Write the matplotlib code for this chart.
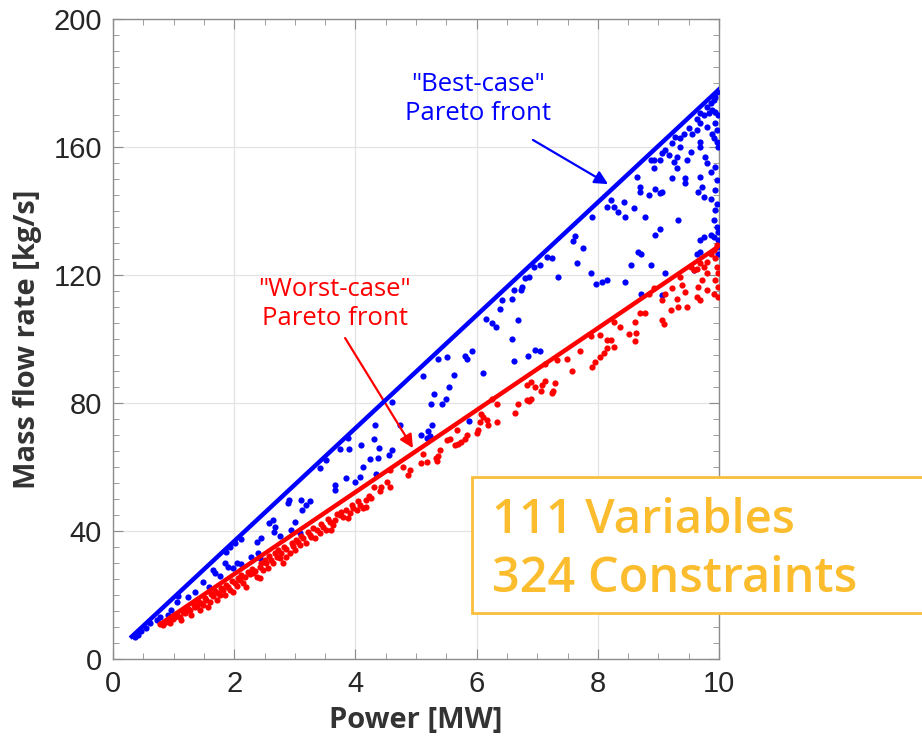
import matplotlib.pyplot as plt
from matplotlib.patches import Rectangle
from matplotlib.ticker import MultipleLocator

blue_x = [9.97, 9.94, 9.91, 9.86, 9.80, 9.88, 9.94, 9.99, 9.83, 9.75, 9.69, 9.64, 9.69, 9.80,
          9.94, 9.97, 9.88, 9.91, 9.97, 9.99, 9.64, 9.55, 9.50, 9.42, 9.36, 9.28, 9.22, 9.11,
          9.17, 9.06, 9.03, 8.92, 8.87, 8.92, 9.36, 9.31, 9.25, 9.31, 9.47, 9.53, 9.69, 9.69,
          9.77, 9.80, 9.86, 9.94, 9.97, 9.69, 9.72, 9.66, 9.75, 9.86, 9.94, 9.97, 9.94, 9.91,
          9.97, 9.99, 9.99, 9.97, 9.99, 9.91, 9.86, 9.75, 9.69, 9.69, 9.64, 9.44, 9.44, 9.22,
          9.03, 9.06, 8.95, 8.84, 8.70, 8.65, 8.70, 8.59, 8.43, 8.34, 8.21, 8.15, 8.26, 8.45,
          8.78, 9.03, 8.95, 8.72, 8.67, 8.54, 8.87, 9.11, 8.15, 8.07, 8.45, 8.72, 9.06, 9.59,
          9.32,
          7.90, 7.63, 7.59, 7.75, 7.66, 7.88, 7.97, 7.34, 7.05, 7.24, 7.16, 6.94, 6.86, 6.80,
          6.75, 6.73, 6.61, 6.58, 6.42, 6.39, 6.68, 6.58, 6.62, 6.84, 6.96, 7.04,
          6.32, 6.25, 6.15, 5.93, 5.81, 5.84, 5.51, 5.37, 5.62, 5.55, 5.49, 5.43, 5.29, 5.24,
          6.11, 5.12, 4.60, 4.74, 5.27, 5.20, 5.23, 5.18, 5.09, 4.32, 4.31, 4.39, 4.60, 4.56,
          4.38, 5.88, 4.34,
          3.88, 4.10, 3.89, 4.24, 3.75, 3.52, 3.42, 4.13, 3.84, 3.99, 4.07, 3.66, 3.66, 2.90,
          2.89, 3.11, 3.12, 3.25, 3.19, 3.00, 2.64, 2.57, 2.67, 2.65, 2.76, 2.94, 3.08, 2.45,
          2.37, 2.12, 2.01, 1.93, 1.87, 2.39, 2.42, 2.04, 2.12, 1.90, 1.84, 1.65, 1.68, 1.76,
          1.49, 1.58, 1.35, 1.24, 1.07, 1.05, 0.96, 0.91, 0.77, 0.72, 0.61, 0.55, 0.47, 0.36,
          0.41, 1.98, 2.28]
blue_y = [177.3, 175.7, 174.6, 173.6, 172.6, 171.5, 171.0, 170.0, 170.5, 170.0, 170.5, 168.9,
          167.4, 166.3, 167.4, 165.3, 164.2, 162.7, 161.6, 160.1, 165.3, 164.2, 165.8, 164.2,
          162.7, 163.2, 161.1, 159.0, 157.5, 158.0, 155.9, 155.9, 155.9, 153.3, 160.1, 156.9,
          155.4, 153.3, 155.9, 158.5, 161.6, 160.1, 156.9, 154.9, 152.2, 153.8, 149.6, 150.7,
          147.6, 146.0, 144.4, 143.9, 146.5, 142.3, 140.3, 137.1, 135.1, 133.5, 130.9, 128.8,
          126.7, 131.9, 132.4, 131.9, 130.9, 127.2, 126.7, 150.2, 148.6, 150.2, 145.5, 146.0,
          147.0, 145.0, 147.6, 150.7, 146.0, 140.8, 142.9, 139.8, 143.4, 141.3, 141.3, 138.2,
          138.2, 134.5, 132.4, 126.7, 127.2, 123.1, 123.1, 120.7, 118.4, 117.9, 117.9, 114.2,
          113.7, 121.7, 137.3,
          138.2, 132.1, 130.7, 128.5, 123.6, 120.7, 117.3, 119.4, 123.1, 125.3, 125.7, 122.5,
          119.4, 119.1, 116.3, 115.4, 115.4, 112.6, 112.1, 109.5, 105.9, 100.1, 93.1, 94.6,
          96.7, 96.3,
          103.8, 105.1, 106.1, 96.3, 94.6, 93.9, 94.4, 93.7, 88.7, 85.1, 81.1, 79.8, 82.8, 79.8,
          89.4, 88.4, 80.4, 73.1, 73.1, 71.3, 69.6, 69.2, 69.9, 73.1, 68.9, 65.8, 65.3, 63.7,
          62.7, 74.4, 57.8,
          69.0, 66.9, 65.5, 62.4, 65.5, 62.2, 59.6, 59.9, 56.5, 55.4, 57.0, 54.4, 52.8, 49.7,
          48.6, 49.7, 46.6, 49.5, 48.1, 42.9, 43.4, 42.4, 41.4, 39.8, 38.4, 40.3, 39.3, 37.7,
          36.7, 37.4, 36.4, 35.1, 33.5, 33.2, 31.5, 29.9, 29.7, 28.9, 30.1, 27.8, 26.8, 25.9,
          24.2, 22.6, 21.0, 19.5, 19.7, 17.9, 15.3, 13.7, 13.2, 12.2, 11.1, 9.6, 8.7, 7.0,
          7.5, 28.3, 31.8]

red_x = [9.97, 9.91, 9.86, 9.94, 9.97, 9.99, 9.94, 9.99, 9.91, 9.99, 9.80, 9.75, 9.69, 9.64,
         9.58, 9.80, 9.72, 9.66, 9.80, 9.64, 9.69, 9.53, 9.36, 9.39, 9.44, 9.22, 9.11, 9.31,
         9.06, 9.47, 9.33, 9.20, 8.92, 8.84, 8.70, 8.78, 8.62, 9.06, 9.09, 8.26, 8.37,
         8.63, 8.62, 8.51, 8.21, 8.15, 8.27, 8.15, 8.10, 8.04, 7.96, 7.90, 8.03, 7.88, 7.70,
         7.49, 7.57, 7.33, 7.13, 7.30, 7.26, 7.24, 7.08, 7.06, 6.97, 7.13, 6.89, 6.83, 6.83,
         6.89, 6.87, 6.69, 6.64,
         6.33, 6.25, 6.08, 6.11, 6.17, 6.06, 6.19, 6.33, 6.03, 6.00, 5.84, 5.81, 5.75, 5.70,
         5.64, 5.67, 5.56, 5.51, 5.40, 5.37, 5.33, 5.34, 5.12, 5.18, 5.09, 4.90, 4.87, 4.78,
         4.57, 4.52, 4.57, 4.43, 4.41, 4.30,
         0.77, 0.88, 0.99, 1.10, 1.18, 1.27, 1.38, 1.46, 1.54, 1.65, 1.73, 1.82, 1.90, 2.01,
         2.09, 2.17, 2.26, 2.34, 2.42, 2.53, 2.61, 2.70, 2.78, 2.86, 2.97, 3.05, 3.14, 3.25,
         3.36, 3.47, 3.58, 3.66, 3.74, 3.85, 3.96, 4.07, 4.18, 4.26,
         1.05, 1.21, 1.35, 1.49, 1.60, 1.76, 1.93, 2.04, 2.15, 2.31, 2.48, 2.64, 2.75, 2.92,
         3.08, 3.27, 3.41, 3.52, 3.63, 3.80, 3.91, 4.02, 4.13,
         1.13, 1.29, 1.43, 1.57, 1.71, 1.84, 1.98, 2.20, 2.37, 2.56, 2.86, 3.00, 3.19, 3.33,
         3.60, 3.88, 4.18, 2.42, 2.81, 0.83, 0.94,
         0.92, 1.02, 1.16, 1.24, 1.33, 1.41, 1.52, 1.62, 1.68, 1.79, 1.87, 1.96, 2.07, 2.12,
         2.23, 2.29, 2.45, 2.50, 2.58, 2.67, 2.73, 2.83, 2.95, 3.02, 3.11, 3.22, 3.30, 3.44,
         3.55, 3.70, 3.77, 3.94, 4.05, 4.22]
red_y = [129.3, 127.8, 126.7, 125.2, 122.5, 120.5, 118.4, 116.3, 114.2, 113.2, 124.1, 122.5,
         123.6, 122.0, 121.5, 120.5, 118.4, 116.3, 115.3, 113.2, 112.1, 122.5, 119.4, 116.8,
         114.7, 115.8, 114.2, 112.6, 112.1, 110.0, 110.0, 109.0, 115.8, 114.2, 108.0, 108.0,
         105.4, 105.9, 104.8, 105.4, 103.8,
         101.9, 99.4, 101.5, 99.8, 99.6, 97.5, 97.3, 95.6, 94.4, 92.8, 91.1, 101.2, 100.9, 96.2,
         93.9, 90.0, 93.4, 92.3, 86.1, 83.8, 83.2, 85.5, 83.8, 85.0, 86.9, 86.6, 85.5, 80.9,
         81.4, 80.6, 79.8, 76.9,
         79.8, 81.4, 76.5, 75.7, 74.6, 74.1, 73.1, 74.1, 71.5, 70.5, 69.9, 68.6, 67.9, 67.3,
         66.8, 71.5, 68.6, 68.4, 65.3, 63.4, 62.7, 61.9, 64.2, 61.6, 61.1, 59.0, 57.4, 60.0,
         59.0, 55.4, 53.8, 53.6, 52.5, 53.8,
         10.9, 11.7, 12.4, 13.2, 14.3, 15.3, 16.6, 17.4, 18.4, 19.7, 20.5, 21.6, 22.6, 23.6,
         24.7, 25.7, 26.6, 27.6, 28.9, 29.9, 31.0, 32.0, 33.2, 34.3, 35.3, 36.7, 37.7, 38.8,
         40.3, 41.4, 42.9, 43.4, 45.0, 46.6, 47.1, 48.1, 49.7, 50.2,
         13.7, 15.1, 16.3, 16.9, 17.9, 20.0, 21.6, 22.8, 23.6, 26.8, 27.8, 29.9, 31.5, 33.0,
         35.6, 38.2, 39.3, 40.3, 41.9, 44.5, 45.5, 46.6, 47.1,
         12.2, 13.7, 15.3, 16.3, 18.4, 20.0, 21.0, 22.6, 25.7, 28.3, 32.0, 34.1, 36.1, 37.7,
         40.3, 44.0, 47.6, 25.2, 29.9, 10.6, 11.3,
         12.0, 13.0, 14.8, 15.6, 16.9, 18.0, 19.0, 20.4, 21.2, 22.3, 23.1, 24.3, 25.4, 26.2,
         27.2, 28.1, 30.1, 30.8, 32.2, 33.0, 34.0, 35.1, 36.3, 37.2, 38.4, 39.6, 40.9, 42.3,
         43.8, 45.2, 46.0, 48.2, 49.3, 51.0]

# the two Pareto fronts
best_x = [0.31, 10.0]
best_y = [7.0, 178.0]
worst_x = [0.78, 10.0]
worst_y = [10.9, 129.0]

fig = plt.figure(figsize=(9.22, 7.53), dpi=100)
ax = fig.add_axes([113 / 922, 94 / 753, 606 / 922, 640 / 753])

ax.scatter(blue_x, blue_y, s=20, color="blue", linewidths=0, zorder=3)
ax.scatter(red_x, red_y, s=20, color="red", linewidths=0, zorder=3)
ax.plot(best_x, best_y, color="blue", lw=3.2, zorder=4)
ax.plot(worst_x, worst_y, color="red", lw=3.2, zorder=4)

ax.set_xlim(0, 10)
ax.set_ylim(0, 200)
ax.xaxis.set_major_locator(MultipleLocator(2))
ax.xaxis.set_minor_locator(MultipleLocator(0.5))
ax.yaxis.set_major_locator(MultipleLocator(40))
ax.yaxis.set_minor_locator(MultipleLocator(5))
ax.grid(True, which="major", color="#e3e3e3", lw=0.9, zorder=0)
ax.set_axisbelow(True)
for sp in ax.spines.values():
    sp.set_color("#8c8c8c")
    sp.set_linewidth(1.0)
ax.tick_params(which="both", direction="in", top=True, right=True, color="#8c8c8c")
ax.tick_params(which="major", length=7, labelsize=21, labelcolor="#262626", pad=8)
ax.tick_params(which="minor", length=4)
for lab in ax.get_xticklabels() + ax.get_yticklabels():
    lab.set_family("Liberation Sans")

ax.set_xlabel("Power [MW]", fontsize=21, fontweight="bold", color="#333333",
              family="Open Sans", labelpad=6)
ax.set_ylabel("Mass flow rate [kg/s]", fontsize=21, fontweight="bold", color="#333333",
              family="Open Sans", labelpad=8)

ax.text(6.02, 175, '"Best-case"\nPareto front', color="blue", fontsize=18.5,
        family="Open Sans", ha="center", va="center", linespacing=1.2)
ax.annotate("", xy=(8.17, 148.4), xytext=(6.93, 162.2),
            arrowprops=dict(arrowstyle="-|>", color="blue", lw=1.6, mutation_scale=20,
                            shrinkA=0, shrinkB=0))
ax.text(3.66, 111, '"Worst-case"\nPareto front', color="red", fontsize=18.5,
        family="Open Sans", ha="center", va="center", linespacing=1.2)
ax.annotate("", xy=(4.95, 65.9), xytext=(3.83, 100.3),
            arrowprops=dict(arrowstyle="-|>", color="red", lw=1.6, mutation_scale=20,
                            shrinkA=0, shrinkB=0))

# info box, sitting on top of the axes
box = Rectangle((472 / 922, 140 / 753), 460 / 922, 136 / 753, transform=fig.transFigure,
                facecolor="white", edgecolor="#f9bf3b", lw=2, zorder=5)
fig.patches.append(box)
fig.text(492 / 922, 220 / 753, "111 Variables", color="#fbbc2d", fontsize=34,
         family="Open Sans", fontweight="semibold", va="baseline", zorder=6)
fig.text(492 / 922, 161 / 753, "324 Constraints", color="#fbbc2d", fontsize=35,
         family="Open Sans", fontweight="semibold", va="baseline", zorder=6)

fig.savefig("out.png", dpi=100, facecolor="white")
